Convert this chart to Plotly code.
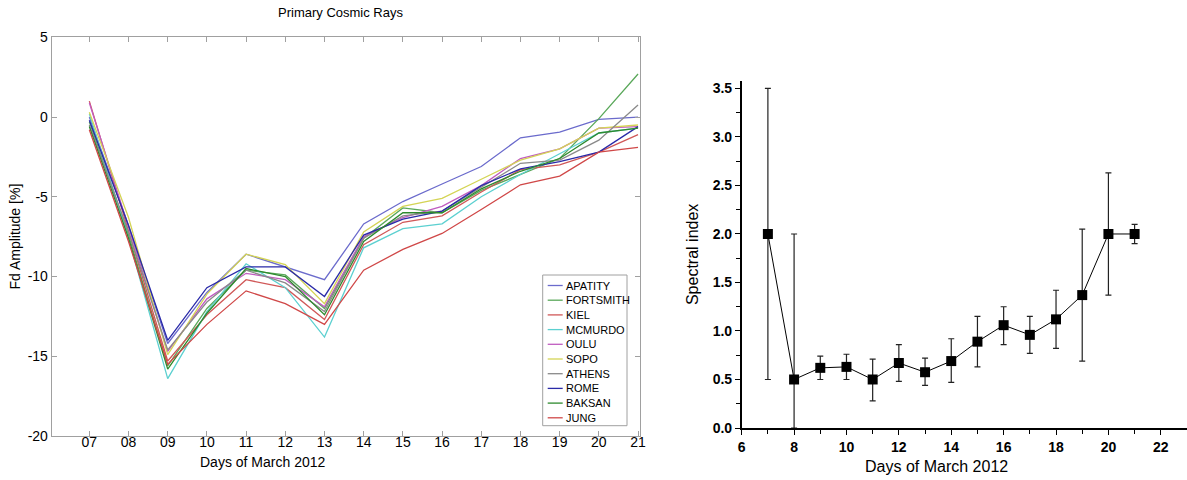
import plotly.graph_objects as go

W, H = 1187, 480

days = list(range(7, 22))
day_labels = [f"{d:02d}" for d in days]
y_ticks = [5, 0, -5, -10, -15, -20]
y_tick_labels = ["5", "0", "-5", "-10", "-15", "-20"]

stations = ["APATITY", "FORTSMITH", "KIEL", "MCMURDO", "OULU", "SOPO", "ATHENS", "ROME", "BAKSAN", "JUNG"]
colors = ["#6b6bcc", "#5aa85a", "#d05858", "#5cd0d0", "#c05cc0", "#d4d455", "#8a8a8a", "#2a2aa8", "#2e8a2e", "#d04848"]

apatity   = [0.0, -6.8, -14.2, -11.0, -8.6, -9.4, -10.2, -6.7, -5.3, -4.2, -3.1, -1.3, -0.95, -0.15, 0.0]
fortsmith = [-0.3, -7.4, -15.6, -12.0, -9.6, -9.9, -12.0, -7.6, -5.7, -6.0, -4.6, -3.6, -2.6, -0.1, 2.7]
kiel      = [1.0, -7.2, -15.3, -12.4, -10.2, -10.7, -12.7, -8.0, -6.6, -6.2, -4.7, -3.3, -3.0, -2.2, -1.1]
mcmurdo   = [0.2, -7.6, -16.4, -12.2, -9.2, -10.7, -13.8, -8.2, -7.0, -6.7, -5.0, -3.6, -2.3, -1.0, -0.7]
oulu      = [0.9, -6.9, -14.7, -11.4, -9.8, -10.2, -11.9, -7.5, -6.3, -5.6, -4.3, -2.6, -2.0, -0.7, -0.6]
sopo      = [0.3, -6.3, -14.9, -11.1, -8.6, -9.25, -11.7, -7.2, -5.6, -5.1, -3.9, -2.7, -2.0, -0.7, -0.5]
athens    = [-0.5, -7.2, -14.6, -11.6, -9.6, -10.4, -12.2, -7.6, -6.2, -5.9, -4.4, -2.9, -2.7, -1.45, 0.75]
rome      = [-0.2, -6.8, -14.0, -10.7, -9.4, -9.4, -11.25, -7.4, -6.4, -5.9, -4.3, -3.25, -2.8, -2.2, -0.6]
baksan    = [-0.6, -7.6, -15.8, -12.3, -9.5, -10.0, -12.4, -7.8, -6.0, -6.0, -4.5, -3.4, -2.6, -1.0, -0.7]
jung      = [-0.8, -7.8, -15.5, -13.0, -10.9, -11.7, -13.0, -9.6, -8.3, -7.3, -5.8, -4.25, -3.7, -2.2, -1.9]
series = [apatity, fortsmith, kiel, mcmurdo, oulu, sopo, athens, rome, baksan, jung]

# Spectral index
sp_days  = list(range(7, 22))
sp_value = [2.0, 0.5, 0.62, 0.63, 0.5, 0.67, 0.575, 0.69, 0.89, 1.06, 0.96, 1.12, 1.37, 2.0, 2.0]
sp_upper = [3.5, 2.0, 0.74, 0.76, 0.71, 0.86, 0.72, 0.92, 1.15, 1.25, 1.15, 1.42, 2.05, 2.63, 2.1]
sp_lower = [0.5, 0.0, 0.5, 0.5, 0.28, 0.48, 0.44, 0.47, 0.63, 0.86, 0.77, 0.82, 0.69, 1.37, 1.9]

fig = go.Figure()

for name, col, vals in zip(stations, colors, series):
    fig.add_trace(go.Scatter(x=days, y=vals, mode="lines", name=name,
                             line=dict(color=col, width=1.3),
                             xaxis="x", yaxis="y", showlegend=False))

err_plus = [u - v for u, v in zip(sp_upper, sp_value)]
err_minus = [v - l for v, l in zip(sp_value, sp_lower)]
fig.add_trace(go.Scatter(x=sp_days, y=sp_value, mode="lines+markers", showlegend=False,
                         line=dict(color="black", width=1),
                         marker=dict(symbol="square", size=10, color="black"),
                         error_y=dict(type="data", symmetric=False, array=err_plus,
                                      arrayminus=err_minus, color="#222222",
                                      thickness=1.2, width=3),
                         xaxis="x2", yaxis="y2", cliponaxis=False))

px = lambda p: p / W
py = lambda p: 1 - p / H

gray = "#a0a0a0"

# Manual legend box (compact, like the MATLAB legend)
lg_left, lg_top, lg_right, lg_bottom = 542.7, 275, 627, 425.7
row_h = 14.7
shapes = [dict(type="rect", xref="paper", yref="paper",
               x0=px(lg_left), x1=px(lg_right), y0=py(lg_bottom), y1=py(lg_top),
               line=dict(color=gray, width=1), fillcolor="white", layer="above")]
annotations = []
for i, (name, col) in enumerate(zip(stations, colors)):
    yc = lg_top + 10.5 + i * row_h
    shapes.append(dict(type="line", xref="paper", yref="paper",
                       x0=px(lg_left + 5), x1=px(lg_left + 20), y0=py(yc), y1=py(yc),
                       line=dict(color=col, width=1.3), layer="above"))
    annotations.append(dict(text=name, x=px(lg_left + 21), y=py(yc), xref="paper", yref="paper",
                            showarrow=False, xanchor="left", yanchor="middle",
                            font=dict(size=11, color="black")))

annotations += [
    dict(text="Primary Cosmic Rays", x=px(340), y=py(12), xref="paper", yref="paper",
         showarrow=False, font=dict(size=13), xanchor="center", yanchor="middle"),
    dict(text="Days of March 2012", x=px(262), y=py(462), xref="paper", yref="paper",
         showarrow=False, font=dict(size=14), xanchor="center", yanchor="middle"),
    dict(text="Days of March 2012", x=px(936), y=py(466), xref="paper", yref="paper",
         showarrow=False, font=dict(size=16), xanchor="center", yanchor="middle"),
]

fig.update_layout(
    width=W, height=H,
    margin=dict(l=0, r=0, t=0, b=0, autoexpand=False),
    paper_bgcolor="white", plot_bgcolor="white",
    font=dict(family="Arial, Liberation Sans, sans-serif", color="black"),
    showlegend=False,
    xaxis=dict(domain=[px(51.7), px(640)], range=[6.04, 21.05],
               tickmode="array", tickvals=days, ticktext=day_labels,
               ticks="inside", ticklen=5, tickcolor=gray,
               showline=True, linecolor=gray, linewidth=1, mirror="ticks",
               showgrid=False, zeroline=False, tickfont=dict(size=14), automargin=False,
               ticklabelstandoff=-7),
    yaxis=dict(domain=[py(436), py(37.3)], range=[-20, 5],
               tickmode="array", tickvals=y_ticks, ticktext=y_tick_labels,
               ticks="inside", ticklen=5, tickcolor=gray,
               showline=True, linecolor=gray, linewidth=1, mirror="ticks",
               showgrid=False, zeroline=False, tickfont=dict(size=14), automargin=False,
               title=dict(text="Fd Amplitude [%]", font=dict(size=14), standoff=3)),
    xaxis2=dict(domain=[px(741.7), 1.0], range=[6, 23], dtick=2, tick0=6,
                ticks="outside", ticklen=5, tickcolor="black", tickwidth=1.2,
                minor=dict(dtick=1, ticks="outside", ticklen=4, tickcolor="black"),
                showline=True, linecolor="black", linewidth=1.5,
                showgrid=False, zeroline=False, automargin=False,
                tickfont=dict(size=14, weight="bold"), anchor="y2"),
    yaxis2=dict(domain=[py(428), py(80.7)], range=[0, 3.58], dtick=0.5, tick0=0,
                tickformat=".1f",
                ticks="outside", ticklen=5, tickcolor="black", tickwidth=1.2,
                minor=dict(dtick=0.25, ticks="outside", ticklen=4, tickcolor="black"),
                showline=True, linecolor="black", linewidth=1.5,
                showgrid=False, zeroline=False, automargin=False,
                tickfont=dict(size=14, weight="bold"), anchor="x2",
                title=dict(text="Spectral index", font=dict(size=16), standoff=10)),
    shapes=shapes,
    annotations=annotations,
)

fig.write_html("out.html", config={"displayModeBar": False},
               post_script="document.body.style.margin='0';document.body.style.overflow='hidden';")
